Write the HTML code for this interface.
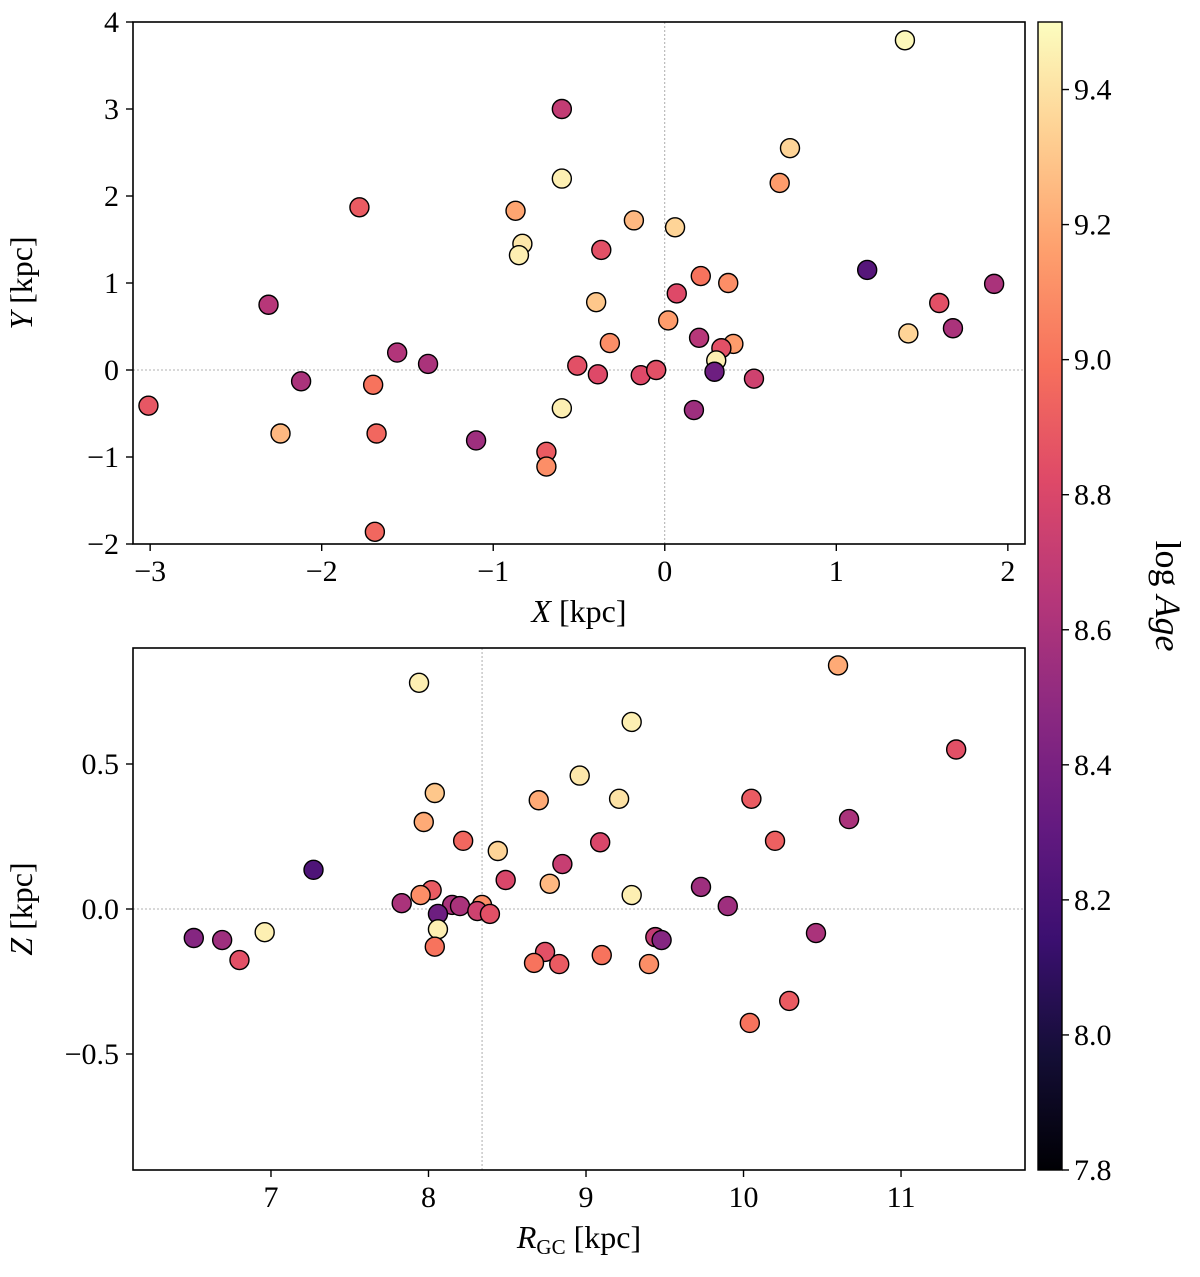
<!DOCTYPE html>
<html><head><meta charset="utf-8"><style>
body{margin:0;background:#fff}
svg text{font-family:"Liberation Serif",serif;fill:#000}
</style></head><body>
<svg id="fig" width="1200" height="1272" xmlns="http://www.w3.org/2000/svg"></svg>
<script>
const topX=[1.40,-0.60,-0.60,0.73,0.67,-1.78,-0.87,-0.18,0.06,-0.83,-0.85,-0.37,1.18,1.92,0.21,0.37,-2.31,-0.40,0.07,1.60,0.02,1.68,1.42,0.20,-0.32,0.40,0.33,-1.56,0.30,-1.38,-0.51,0.29,-0.39,-0.14,-0.05,0.52,-2.12,-1.70,-3.01,-0.60,0.17,-2.24,-1.68,-1.10,-0.69,-0.69,-1.69];
const topY=[3.79,3.0,2.2,2.55,2.15,1.87,1.83,1.72,1.64,1.45,1.32,1.38,1.15,0.99,1.08,1.0,0.75,0.78,0.88,0.77,0.57,0.48,0.42,0.37,0.31,0.30,0.25,0.2,0.11,0.07,0.05,-0.02,-0.05,-0.06,0.0,-0.1,-0.13,-0.17,-0.41,-0.44,-0.46,-0.73,-0.73,-0.81,-0.94,-1.11,-1.86];
const topAge=[9.48,8.7,9.45,9.35,9.15,8.9,9.18,9.25,9.35,9.42,9.45,8.85,8.25,8.6,9.0,9.1,8.65,9.3,8.82,8.85,9.15,8.6,9.35,8.65,9.1,9.15,8.85,8.63,9.45,8.6,8.85,8.35,8.82,8.82,8.85,8.75,8.6,9.0,8.88,9.45,8.55,9.25,8.95,8.55,8.9,9.1,8.95];
const botR=[10.60,7.94,9.29,11.35,8.96,8.04,10.05,8.70,9.21,10.67,7.97,8.22,10.20,9.09,8.44,7.27,8.85,8.49,8.77,9.73,9.29,8.02,7.95,7.83,9.90,8.15,8.20,8.34,8.31,8.39,8.06,8.06,6.96,6.51,6.69,10.46,9.44,9.48,8.04,6.80,8.74,9.10,8.67,8.83,9.40,10.29,10.04];
const botZ=[0.84,0.78,0.645,0.55,0.46,0.40,0.38,0.375,0.38,0.31,0.30,0.235,0.235,0.23,0.20,0.135,0.155,0.10,0.087,0.076,0.048,0.065,0.048,0.02,0.01,0.014,0.01,0.014,-0.007,-0.017,-0.017,-0.07,-0.08,-0.10,-0.107,-0.083,-0.097,-0.107,-0.13,-0.176,-0.148,-0.159,-0.186,-0.19,-0.19,-0.317,-0.393];
const botAge=[9.2,9.45,9.45,8.85,9.42,9.3,8.9,9.2,9.4,8.6,9.2,8.95,8.92,8.8,9.35,8.22,8.72,8.8,9.25,8.55,9.45,8.9,9.1,8.6,8.55,8.6,8.6,9.1,8.75,8.85,8.35,9.45,9.45,8.45,8.55,8.6,8.7,8.45,9.0,8.85,8.85,9.0,9.0,8.9,9.1,8.9,9.0];
const topXTicks=[-3,-2,-1,0,1,2], topYTicks=[-2,-1,0,1,2,3,4];
const botXTicks=[7,8,9,10,11], botYTicks=[-0.5,0.0,0.5];
const botYLabels=["\u22120.5","0.0","0.5"];
const cbTicks=[7.8,8.0,8.2,8.4,8.6,8.8,9.0,9.2,9.4];
const AGE_MIN=7.8, AGE_MAX=9.5, RSUN=8.34;

const NS="http://www.w3.org/2000/svg", svg=document.getElementById('fig');
function el(t,a,p){const e=document.createElementNS(NS,t);for(const k in a)e.setAttribute(k,a[k]);(p||svg).appendChild(e);return e;}
const magma=[[0,0,4],[20,14,54],[59,15,112],[100,26,128],[140,41,129],[183,55,121],[222,73,104],[247,112,92],[254,159,109],[254,207,146],[252,253,191]];
function cmap(v){let t=(v-AGE_MIN)/(AGE_MAX-AGE_MIN);t=Math.max(0,Math.min(1,t))*10;const i=Math.min(9,Math.floor(t)),f=t-i;const a=magma[i],b=magma[i+1];return `rgb(${a.map((c,k)=>Math.round(c+(b[k]-c)*f)).join(',')})`;}
function lin(d0,d1,r0,r1){return v=>r0+(v-d0)/(d1-d0)*(r1-r0);}
function fmt(v){return v<0?"\u2212"+Math.abs(v):String(v);}

function panel(name,L,T,R,B,xs,ys,xt,xl,yt,yl,xs_,ys_,cs,vline,hline,xlab,ylab){
  const g=el('g',{});
  el('line',{x1:xs(vline),x2:xs(vline),y1:T,y2:B,stroke:'#999','stroke-width':0.8,'stroke-dasharray':'2,2'},g);
  if(hline!==null){el('line',{x1:L,x2:R,y1:ys(hline),y2:ys(hline),stroke:'#999','stroke-width':0.8,'stroke-dasharray':'2,2'},g);}
  for(let i=0;i<xs_.length;i++){
    const c=el('circle',{cx:xs(xs_[i]),cy:ys(ys_[i]),r:9.5,fill:cmap(cs[i]),stroke:'#000','stroke-width':1.4},g);
    
    
  }
  el('rect',{x:L,y:T,width:R-L,height:B-T,fill:'none',stroke:'#000','stroke-width':1.6},g);
  xt.forEach((v,i)=>{const x=xs(v);el('line',{x1:x,x2:x,y1:B,y2:B+7,stroke:'#000','stroke-width':1.4},g);
    const t=el('text',{x:x,y:B+37,'font-size':30,'text-anchor':'middle'},g);t.textContent=xl[i];});
  yt.forEach((v,i)=>{const y=ys(v);el('line',{x1:L,x2:L-7,y1:y,y2:y,stroke:'#000','stroke-width':1.4},g);
    const t=el('text',{x:L-14,y:y+10,'font-size':30,'text-anchor':'end'},g);t.textContent=yl[i];});
  const xl_=el('text',{x:(L+R)/2,y:B+78,'font-size':32,'text-anchor':'middle'},g);xl_.innerHTML=xlab;
  const yl_=el('text',{x:0,y:0,'font-size':32,'text-anchor':'middle',transform:`translate(32,${(T+B)/2}) rotate(-90)`},g);yl_.innerHTML=ylab;
}
panel('xy-panel',133,22,1025,544,lin(-3.1,2.1,133,1025),lin(-2,4,544,22),topXTicks,topXTicks.map(fmt),topYTicks,topYTicks.map(fmt),topX,topY,topAge,0,0,'<tspan font-style="italic">X</tspan> [kpc]','<tspan font-style="italic">Y</tspan> [kpc]');
panel('rz-panel',133,648,1025,1170,lin(6.124,11.787,133,1025),lin(-0.9,0.9,1170,648),botXTicks,botXTicks.map(fmt),botYTicks,botYLabels,botR,botZ,botAge,RSUN,0,'<tspan font-style="italic">R</tspan><tspan font-size="21" dy="6">GC</tspan><tspan dy="-6"> [kpc]</tspan>','<tspan font-style="italic">Z</tspan> [kpc]');

// colorbar
const cb=el('g',{});
const defs=el('defs',{},cb);const gr=el('linearGradient',{id:'mg',x1:0,y1:1,x2:0,y2:0},defs);
for(let i=0;i<=20;i++){el('stop',{offset:i/20,'stop-color':cmap(AGE_MIN+i/20*(AGE_MAX-AGE_MIN))},gr);}
const cy=lin(AGE_MIN,AGE_MAX,1170,22);
el('rect',{x:1038,y:22,width:24,height:1148,fill:'url(#mg)',stroke:'#000','stroke-width':1.4},cb);
cbTicks.forEach(v=>{const y=cy(v);el('line',{x1:1062,x2:1069,y1:y,y2:y,stroke:'#000','stroke-width':1.4},cb);
  const t=el('text',{x:1074,y:y+10,'font-size':30},cb);t.textContent=v.toFixed(1);});
const cl=el('text',{x:0,y:0,'font-size':36,'text-anchor':'middle',transform:'translate(1156,596) rotate(90)'},cb);
cl.innerHTML='log <tspan font-style="italic">Age</tspan>';
</script>
</body></html>
